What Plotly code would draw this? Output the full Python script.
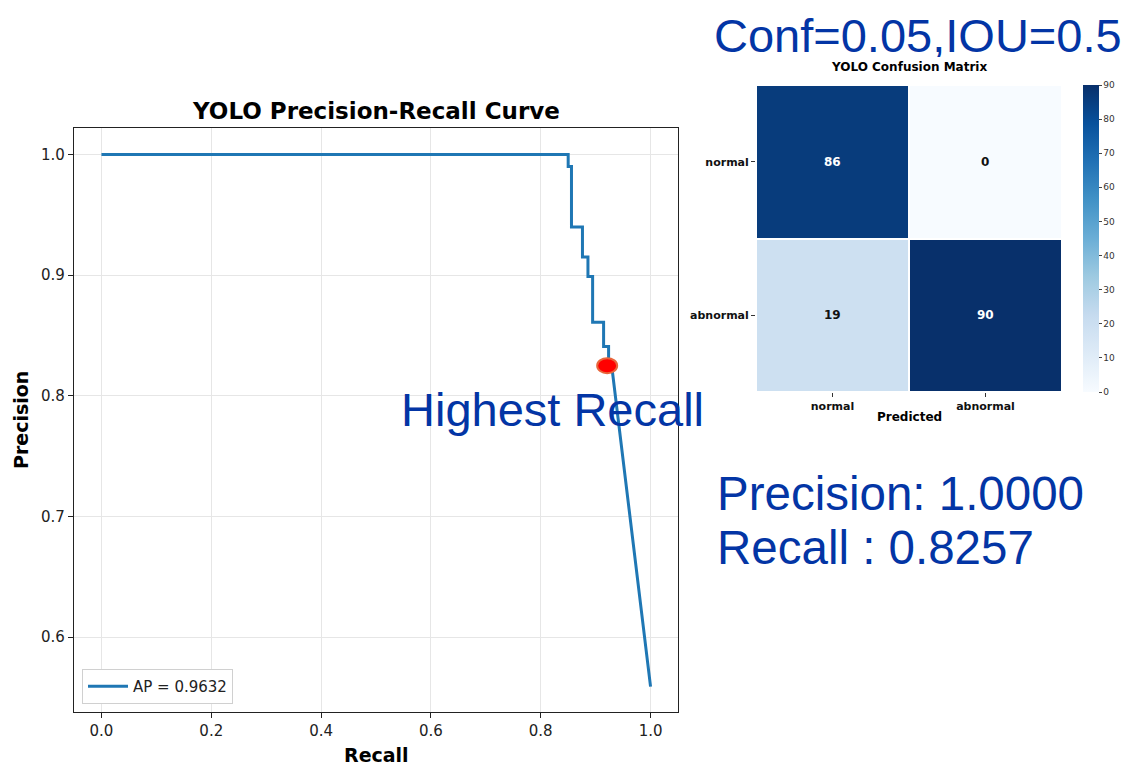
import plotly.graph_objects as go
import plotly.colors as pc

# ---------------- data ----------------
recall = [0.0, 0.850, 0.850, 0.856, 0.856, 0.876, 0.876, 0.886, 0.886, 0.8945, 0.8945,
          0.9145, 0.9145, 0.9236, 0.9236, 0.929, 1.0]
precision = [1.0, 1.0, 0.990, 0.990, 0.940, 0.940, 0.915, 0.915, 0.899, 0.899, 0.861,
             0.861, 0.841, 0.841, 0.826, 0.826, 0.559]
ap_label = "AP = 0.9632"

hr_recall = 0.921
hr_precision = 0.825

cm_pred = ["normal", "abnormal"]
cm_true = ["normal", "abnormal"]
cm_values = [[86, 0], [19, 90]]
cb_ticks = [0, 10, 20, 30, 40, 50, 60, 70, 80, 90]

pr_xticks = [0.0, 0.2, 0.4, 0.6, 0.8, 1.0]
pr_yticks = [0.6, 0.7, 0.8, 0.9, 1.0]

W, H = 1135, 766
OX, OY = 8, 8  # page body margin offset
BLUE_TXT = "#0335a5"
MPL = "DejaVu Sans"
ARIAL = "Liberation Sans, Arial"


def px_x(p):
    return (p - OX) / W


def px_y(p):
    return 1 - (p - OY) / H


fig = go.Figure()

# PR curve
fig.add_trace(go.Scatter(
    x=recall, y=precision, mode="lines", name=ap_label,
    line=dict(color="#1f77b4", width=3), xaxis="x", yaxis="y", showlegend=True,
))

# confusion matrix heatmap
fig.add_trace(go.Heatmap(
    z=cm_values, x=cm_pred, y=cm_true, xaxis="x2", yaxis="y2",
    colorscale=pc.sequential.Blues, zmin=0, zmax=90, xgap=2, ygap=2,
    showscale=True, showlegend=False,
    colorbar=dict(
        x=px_x(1083), xanchor="left", xref="paper", xpad=0, ypad=0,
        thickness=16, len=(392 - 85) / H,
        lenmode="fraction", y=px_y((392 + 85) / 2), yanchor="middle", yref="paper",
        outlinewidth=0, ticks="outside", ticklen=3, tickcolor="#444",
        tickvals=cb_ticks, ticktext=[str(t) for t in cb_ticks],
        tickfont=dict(family=MPL, size=9, color="#333"),
    ),
))

annotations = []
# cell labels
for i, row in enumerate(cm_values):
    for j, v in enumerate(row):
        annotations.append(dict(
            x=cm_pred[j], y=cm_true[i], xref="x2", yref="y2", text=f"<b>{v}</b>",
            showarrow=False, font=dict(family=MPL, size=12,
                                       color="white" if v > 45 else "#111"),
        ))

annotations += [
    dict(text="<b>YOLO Precision-Recall Curve</b>", x=px_x(376), y=px_y(111),
         xref="paper", yref="paper", showarrow=False, xanchor="center", yanchor="middle",
         font=dict(family=MPL, size=23, color="black")),
    dict(text="<b>Recall</b>", x=px_x(376), y=px_y(755),
         xref="paper", yref="paper", showarrow=False, xanchor="center", yanchor="middle",
         font=dict(family=MPL, size=19, color="black")),
    dict(text="<b>Precision</b>", x=px_x(21), y=px_y(420), textangle=-90,
         xref="paper", yref="paper", showarrow=False, xanchor="center", yanchor="middle",
         font=dict(family=MPL, size=19, color="black")),
    dict(text="<b>YOLO Confusion Matrix</b>", x=px_x(909), y=px_y(67),
         xref="paper", yref="paper", showarrow=False, xanchor="center", yanchor="middle",
         font=dict(family=MPL, size=12, color="black")),
    dict(text="<b>Predicted</b>", x=px_x(909), y=px_y(417),
         xref="paper", yref="paper", showarrow=False, xanchor="center", yanchor="middle",
         font=dict(family=MPL, size=12, color="black")),
    dict(text="Conf=0.05,IOU=0.5", x=px_x(712), y=px_y(35), height=44, valign="middle",
         xref="paper", yref="paper", showarrow=False, xanchor="left", yanchor="middle",
         font=dict(family=ARIAL, size=47, color=BLUE_TXT)),
    dict(text="Highest Recall", x=px_x(399), y=px_y(409),
         xref="paper", yref="paper", showarrow=False, xanchor="left", yanchor="middle",
         font=dict(family=ARIAL, size=47, color=BLUE_TXT)),
    dict(text="Precision: 1.0000", x=px_x(715), y=px_y(494),
         xref="paper", yref="paper", showarrow=False, xanchor="left", yanchor="middle",
         font=dict(family=ARIAL, size=47.5, color=BLUE_TXT)),
    dict(text="Recall : 0.8257", x=px_x(715), y=px_y(547),
         xref="paper", yref="paper", showarrow=False, xanchor="left", yanchor="middle",
         font=dict(family=ARIAL, size=47.5, color=BLUE_TXT)),
]

shapes = [
    dict(type="circle", xref="x", yref="y", xsizemode="pixel", ysizemode="pixel",
         xanchor=hr_recall, yanchor=hr_precision, x0=-10, x1=10, y0=-7.5, y1=7.5,
         fillcolor="#ff0000", line=dict(color="#e8663c", width=2), layer="above"),
]

axis_common = dict(
    showline=True, linecolor="#222", linewidth=1.2, mirror=True,
    ticks="outside", ticklen=5, tickcolor="#222", automargin=False,
    showgrid=True, gridcolor="#e6e6e6", gridwidth=1, zeroline=False,
    tickfont=dict(family=MPL, size=15, color="#222"),
)

fig.update_layout(
    width=W, height=H, margin=dict(l=0, r=0, t=0, b=0, autoexpand=False),
    paper_bgcolor="white", plot_bgcolor="white",
    xaxis=dict(domain=[px_x(74), px_x(678)], range=[-0.05, 1.05],
               tickvals=pr_xticks, ticktext=[f"{t:.1f}" for t in pr_xticks],
               anchor="y", **axis_common),
    yaxis=dict(domain=[px_y(712), px_y(128)], range=[0.538, 1.022],
               tickvals=pr_yticks, ticktext=[f"{t:.1f}" for t in pr_yticks],
               anchor="x", **axis_common),
    xaxis2=dict(domain=[px_x(756), px_x(1062)], anchor="y2", showgrid=False, zeroline=False,
                showline=False, ticks="outside", ticklen=4, tickcolor="#333", automargin=False,
                tickfont=dict(family=MPL, size=11, color="#111"),
                tickprefix="<b>", ticksuffix="</b>"),
    yaxis2=dict(domain=[px_y(392), px_y(85)], anchor="x2", autorange="reversed",
                showgrid=False, zeroline=False, showline=False, ticks="outside",
                ticklen=4, tickcolor="#333", automargin=False,
                tickfont=dict(family=MPL, size=11, color="#111"),
                tickprefix="<b>", ticksuffix="</b>"),
    legend=dict(x=px_x(82), y=px_y(704), xanchor="left", yanchor="bottom",
                bgcolor="white", bordercolor="#d0d0d0", borderwidth=1,
                itemwidth=40, font=dict(family=MPL, size=15, color="#222")),
    annotations=annotations,
    shapes=shapes,
)

fig.write_html("out.html")
